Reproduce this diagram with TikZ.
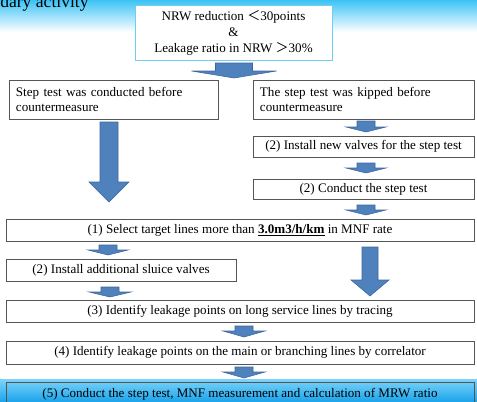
\documentclass[tikz,border=0pt]{standalone}
\usepackage{fontspec}
\setmainfont{Liberation Serif}
\newfontfamily\cjk{Noto Sans CJK SC}
\usetikzlibrary{positioning}

\definecolor{arrowblue}{RGB}{79,129,189}
\definecolor{arrowedge}{RGB}{62,102,158}
\definecolor{skycyan}{RGB}{60,195,245}
\definecolor{boxedge}{RGB}{85,85,85}
\definecolor{condedge}{RGB}{110,205,240}
\definecolor{stripup}{RGB}{125,212,250}
\definecolor{stripdown}{RGB}{30,165,235}

\newcommand{\px}{0.025cm}
\newcommand{\blockarrow}[6]{%
  \filldraw[flowarrow] (#1-#3,#2) -- (#1+#3,#2) -- (#1+#3,#5) -- (#1+#4,#5)
    -- (#1,#6) -- (#1-#4,#5) -- (#1-#3,#5) -- cycle;}

\tikzset{
  box/.style={draw=boxedge, line width=0.6pt, fill=white, inner sep=2pt,
    font=\fontsize{9.3}{10.8}\selectfont},
  condbox/.style={box, draw=condedge, align=center,
    font=\fontsize{9.3}{11.4}\selectfont},
  flowarrow/.style={fill=arrowblue, draw=arrowedge, line width=0.4pt},
}

\begin{document}
\begin{tikzpicture}[x=\px, y=-\px]
  \useasboundingbox (0,0) rectangle (477,401);
  \clip (0,0) rectangle (477,401);
  \shade[top color=skycyan, bottom color=white] (0,0) rectangle (477,32);
  \shade[top color=stripup, bottom color=stripdown] (0,379) rectangle (477,401);
  \node[anchor=base west, inner sep=0, font=\fontsize{12.5}{14}\selectfont] (title) at (0,7.5) {dary activity};

  \node[condbox, minimum width=197*\px, minimum height=55*\px] (cond) at (233.5,32.5)
    {NRW reduction {\cjk ＜}30points\\ \&\\ Leakage ratio in NRW {\cjk ＞}30\%};
  \node[box, minimum width=209*\px, minimum height=39*\px, text width=4.875cm, align=left] (done) at (113.5,99.5)
    {Step test was conducted before\\countermeasure};
  \node[box, minimum width=221*\px, minimum height=39*\px, text width=5.175cm, align=left] (skip) at (363.5,99.5)
    {The step test was kipped before\\countermeasure};
  \node[box, minimum width=221*\px, minimum height=21*\px] (newvalve) at (363.5,146.5)
    {(2) Install new valves for the step test};
  \node[box, minimum width=221*\px, minimum height=20*\px] (steptest) at (363.5,189)
    {(2) Conduct the step test};
  \node[box, minimum width=468*\px, minimum height=22*\px] (select) at (240,230)
    {(1) Select target lines more than \underline{\textbf{3.0m3/h/km}} in MNF rate};
  \node[box, minimum width=230*\px, minimum height=22*\px] (sluice) at (121,270)
    {(2) Install additional sluice valves};
  \node[box, minimum width=468*\px, minimum height=22*\px] (tracing) at (240,311)
    {(3) Identify leakage points on long service lines by tracing};
  \node[box, minimum width=468*\px, minimum height=23*\px] (correlator) at (240,352.5)
    {(4) Identify leakage points on the main or branching lines by correlator};
  \node[box, fill=none, minimum width=468*\px, minimum height=24*\px] (final) at (240,394)
    {(5) Conduct the step test, MNF measurement and calculation of MRW ratio};

  \blockarrow{234}{63}{18.5}{42.5}{71}{78}
  \blockarrow{109}{122}{9}{20}{182}{202}
  \blockarrow{366}{121}{9}{20}{127}{132}
  \blockarrow{366}{163}{9}{20}{168}{173}
  \blockarrow{366}{205}{9}{20}{210}{215}
  \blockarrow{108}{245}{9}{20}{250}{255}
  \blockarrow{370}{247}{8}{19}{280}{296}
  \blockarrow{110}{287}{9}{21}{292}{297}
  \blockarrow{244}{326}{9}{21}{331}{337}
  \blockarrow{244}{367}{9}{21}{372}{378}
\end{tikzpicture}
\end{document}
